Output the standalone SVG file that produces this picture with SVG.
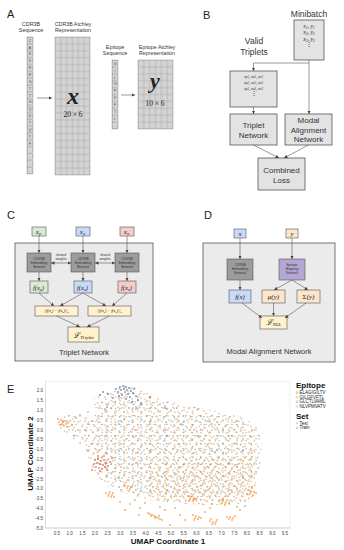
<svg xmlns="http://www.w3.org/2000/svg" width="344" height="550" viewBox="0 0 344 550">
<style>
.lbl{font-family:"Liberation Sans",Arial,sans-serif;font-size:11px;fill:#222}
.t{font-family:"Liberation Sans",Arial,sans-serif;fill:#333;text-anchor:middle}
.m{font-family:"Liberation Serif","DejaVu Serif",serif;font-style:italic;fill:#222;text-anchor:middle}
.mu{font-family:"Liberation Serif","DejaVu Serif",serif;fill:#222;text-anchor:middle}
.box{fill:#e3e3e3;stroke:#555;stroke-width:0.8}
.big{fill:#ebebeb;stroke:#555;stroke-width:0.8}
.ln{stroke:#555;stroke-width:0.6;fill:none}
.emb{fill:#9c9c9c;stroke:#555;stroke-width:0.6}
.gr{fill:#d9ead3;stroke:#555;stroke-width:0.6}
.bu{fill:#c9daf8;stroke:#555;stroke-width:0.6}
.rd{fill:#f4cccc;stroke:#555;stroke-width:0.6}
.ye{fill:#fff2cc;stroke:#555;stroke-width:0.6}
.pe{fill:#fce5cd;stroke:#555;stroke-width:0.6}
.pu{fill:#b4a7d6;stroke:#555;stroke-width:0.6}
.tk{font-family:"Liberation Sans",Arial,sans-serif;font-size:4.5px;fill:#444}
.ax{font-family:"Liberation Sans",Arial,sans-serif;font-size:8px;font-weight:bold;fill:#111}
.lg{font-family:"Liberation Sans",Arial,sans-serif;font-size:4.5px;fill:#222}
.o{fill:#f58518;fill-opacity:.7}
.c{fill:#6fb0c4;fill-opacity:.7}
.r{fill:#e45756;fill-opacity:.8}
.bl{fill:#4c78a8;fill-opacity:.8}
</style>
<defs>
<marker id="ah" viewBox="0 0 6 6" refX="6" refY="3" markerUnits="userSpaceOnUse" markerWidth="3.5" markerHeight="3.5" orient="auto-start-reverse"><path d="M0,0L6,3L0,6z" fill="#444"/></marker>
<pattern id="cellA" x="55" y="37" width="5.8333" height="6.9" patternUnits="userSpaceOnUse"><rect width="5.8333" height="6.9" fill="#d4d4d4" stroke="#a0a0a0" stroke-width="0.5"/></pattern>
<pattern id="cellB" x="138" y="60" width="5.8333" height="6.9" patternUnits="userSpaceOnUse"><rect width="5.8333" height="6.9" fill="#d4d4d4" stroke="#a0a0a0" stroke-width="0.5"/></pattern>
<pattern id="sqA" x="27" y="37" width="6" height="6.85" patternUnits="userSpaceOnUse"><rect x="0.6" y="0.6" width="4.8" height="5.65" fill="#d8d8d8" stroke="#777" stroke-width="0.4"/></pattern>
<pattern id="sqB" x="112" y="60" width="6" height="6.9" patternUnits="userSpaceOnUse"><rect x="0.6" y="0.6" width="4.8" height="5.7" fill="#d8d8d8" stroke="#777" stroke-width="0.4"/></pattern>
<pattern id="pO" width="13" height="11" patternUnits="userSpaceOnUse"><g class="o"><circle cx="2" cy="3" r="0.8"/><circle cx="7.5" cy="1" r="0.8"/><circle cx="11" cy="6.5" r="0.8"/><circle cx="4" cy="8.5" r="0.8"/><circle cx="9" cy="9.8" r="0.8"/></g></pattern>
<pattern id="pO2" x="3" y="2" width="9" height="10" patternUnits="userSpaceOnUse"><g class="o"><circle cx="1.5" cy="2" r="0.8"/><circle cx="6" cy="4.5" r="0.8"/><circle cx="3" cy="8" r="0.8"/></g></pattern>
<pattern id="pO3" x="1" y="4" width="17" height="7" patternUnits="userSpaceOnUse"><g class="o"><circle cx="4" cy="2" r="0.8"/><circle cx="12.5" cy="5.5" r="0.8"/></g></pattern>
<pattern id="pT" width="11" height="14" patternUnits="userSpaceOnUse"><g class="c"><circle cx="1" cy="2" r="0.8"/><circle cx="6" cy="5" r="0.8"/><circle cx="9.5" cy="11" r="0.8"/><circle cx="3" cy="10" r="0.8"/><circle cx="8" cy="1.5" r="0.8"/></g></pattern>
<pattern id="pT2" x="5" y="3" width="9" height="8" patternUnits="userSpaceOnUse"><g class="c"><circle cx="2" cy="1" r="0.8"/><circle cx="7" cy="5.5" r="0.8"/></g></pattern>
<pattern id="pR" width="29" height="23" patternUnits="userSpaceOnUse"><g class="r"><circle cx="5" cy="7" r="0.8"/><circle cx="20" cy="16" r="0.8"/></g></pattern>
<pattern id="pB" width="31" height="27" patternUnits="userSpaceOnUse"><g class="bl"><circle cx="12" cy="4" r="0.8"/><circle cx="26" cy="19" r="0.8"/></g></pattern>
<clipPath id="cloud"><polygon points="95,396 110,390 122,385 135,386 145,392 160,398 180,404 200,408 225,412 245,418 258,428 262,445 260,465 256,480 255,495 245,503 225,505 200,505 175,503 150,500 130,495 115,490 105,485 95,475 90,462 85,448 75,440 62,432 57,424 62,416 75,414 90,418 96,410 93,400"/></clipPath>
<clipPath id="core"><polygon points="105,400 140,396 180,410 230,418 252,432 255,470 245,495 200,500 150,495 120,485 100,470 95,450 90,430 98,412"/></clipPath>
<clipPath id="lower"><polygon points="150,470 200,460 258,455 256,480 255,495 245,503 225,505 200,505 175,503 150,500"/></clipPath>
</defs>
<rect width="344" height="550" fill="#fff"/>

<!-- Panel A -->
<g id="panelA">
<text class="lbl" x="7" y="18">A</text>
<text class="t" font-size="5.4" x="31" y="26">CDR3B</text>
<text class="t" font-size="5.4" x="31" y="32">Sequence</text>
<text class="t" font-size="5.3" x="73" y="26">CDR3B Atchley</text>
<text class="t" font-size="5.3" x="73" y="32">Representation</text>
<text class="t" font-size="5.4" x="115" y="48.5">Epitope</text>
<text class="t" font-size="5.4" x="115" y="54.5">Sequence</text>
<text class="t" font-size="5.3" x="157" y="48.5">Epitope Atchley</text>
<text class="t" font-size="5.3" x="157" y="54.5">Representation</text>
<rect x="27" y="37" width="6" height="137" fill="url(#sqA)" stroke="#888" stroke-width="0.4"/>
<text class="t" font-size="3.4" fill="#333"><tspan x="30" y="41.7">C</tspan><tspan x="30" y="48.6">A</tspan><tspan x="30" y="55.4">S</tspan><tspan x="30" y="62.3">S</tspan><tspan x="30" y="69.1">R</tspan><tspan x="30" y="76">R</tspan><tspan x="30" y="82.8">G</tspan><tspan x="30" y="89.7">T</tspan><tspan x="30" y="96.5">T</tspan><tspan x="30" y="103.4">G</tspan><tspan x="30" y="110.2">Q</tspan><tspan x="30" y="117.1">D</tspan><tspan x="30" y="123.9">T</tspan><tspan x="30" y="130.8">Q</tspan><tspan x="30" y="137.6">Y</tspan><tspan x="30" y="144.5">F</tspan><tspan x="30" y="151.3">-</tspan><tspan x="30" y="158.2">-</tspan><tspan x="30" y="165">-</tspan><tspan x="30" y="171.9">-</tspan></text>
<rect x="55" y="37" width="35" height="138" fill="url(#cellA)" stroke="#999" stroke-width="0.5"/>
<text class="m" font-weight="bold" font-size="24" x="73" y="104">x</text>
<text class="mu" font-size="7.5" x="73" y="117">20 × 6</text>
<line class="ln" x1="37" y1="98" x2="52" y2="98" marker-end="url(#ah)"/>
<rect x="112" y="60" width="6" height="69" fill="url(#sqB)" stroke="#888" stroke-width="0.4"/>
<text class="t" font-size="3.4" fill="#333"><tspan x="115" y="64.7">G</tspan><tspan x="115" y="71.6">I</tspan><tspan x="115" y="78.5">L</tspan><tspan x="115" y="85.4">G</tspan><tspan x="115" y="92.3">F</tspan><tspan x="115" y="99.2">V</tspan><tspan x="115" y="106.1">F</tspan><tspan x="115" y="113">T</tspan><tspan x="115" y="119.9">L</tspan><tspan x="115" y="126.8">-</tspan></text>
<rect x="138" y="60" width="35" height="69" fill="url(#cellB)" stroke="#999" stroke-width="0.5"/>
<text class="m" font-weight="bold" font-size="22" x="155" y="88">y</text>
<text class="mu" font-size="7.5" x="155" y="106">10 × 6</text>
<line class="ln" x1="121" y1="95" x2="135" y2="95" marker-end="url(#ah)"/>
</g>

<!-- Panel B -->
<g id="panelB">
<text class="lbl" x="203" y="19">B</text>
<text class="t" font-size="8.5" x="309" y="17">Minibatch</text>
<text class="t" font-size="8.5" x="254" y="44">Valid</text>
<text class="t" font-size="8.5" x="254" y="55">Triplets</text>
</g>
<g id="minibatch">
<rect class="box" x="294" y="20" width="30" height="40"/>
<text class="m" font-size="5.5" x="309" y="27.5">x<tspan font-size="3.8" dy="1">1</tspan><tspan dy="-1">, y</tspan><tspan font-size="3.8" dy="1">1</tspan></text>
<text class="m" font-size="5.5" x="309" y="34">x<tspan font-size="3.8" dy="1">2</tspan><tspan dy="-1">, y</tspan><tspan font-size="3.8" dy="1">2</tspan></text>
<text class="m" font-size="5.5" x="309" y="40.5">x<tspan font-size="3.8" dy="1">3</tspan><tspan dy="-1">, y</tspan><tspan font-size="3.8" dy="1">3</tspan></text>
<text class="mu" font-size="5.5" x="309" y="46">⋮</text>
</g>
<g id="validTriplets">
<rect class="box" x="230" y="71" width="47" height="36"/>
<text class="m" font-size="4.2" x="253.5" y="77.5">x<tspan font-size="3" dy="0.8">p1</tspan><tspan dy="-0.8">, x</tspan><tspan font-size="3" dy="0.8">a1</tspan><tspan dy="-0.8">, x</tspan><tspan font-size="3" dy="0.8">n1</tspan></text>
<text class="m" font-size="4.2" x="253.5" y="83.5">x<tspan font-size="3" dy="0.8">p2</tspan><tspan dy="-0.8">, x</tspan><tspan font-size="3" dy="0.8">a2</tspan><tspan dy="-0.8">, x</tspan><tspan font-size="3" dy="0.8">n2</tspan></text>
<text class="m" font-size="4.2" x="253.5" y="89.5">x<tspan font-size="3" dy="0.8">p3</tspan><tspan dy="-0.8">, x</tspan><tspan font-size="3" dy="0.8">a3</tspan><tspan dy="-0.8">, x</tspan><tspan font-size="3" dy="0.8">n3</tspan></text>
<text class="mu" font-size="5.5" x="253.5" y="95">⋮</text>
</g>
<g id="tripletNet">
<rect class="box" x="230" y="114" width="47" height="31"/>
<text class="t" font-size="8" x="253.5" y="128">Triplet</text>
<text class="t" font-size="8" x="253.5" y="137.5">Network</text>
</g>
<g id="modalNet">
<rect class="box" x="285" y="114" width="47" height="31"/>
<text class="t" font-size="8" x="308.5" y="123">Modal</text>
<text class="t" font-size="8" x="308.5" y="132.5">Alignment</text>
<text class="t" font-size="8" x="308.5" y="142">Network</text>
</g>
<g id="combinedLoss">
<rect class="box" x="258" y="158" width="47" height="32"/>
<text class="t" font-size="8" x="281.5" y="173">Combined</text>
<text class="t" font-size="8" x="281.5" y="183">Loss</text>
</g>

<!-- Panel C -->
<g id="panelC">
<text class="lbl" x="7" y="219">C</text>
<rect class="big" x="15" y="243" width="138" height="118"/>
<text class="t" font-size="7.5" x="84" y="355">Triplet Network</text>
</g>
<g id="xp"><rect class="gr" x="32" y="227" width="14" height="9"/><text class="m" font-size="7" x="38.5" y="233.8">x<tspan font-size="4.5" dy="1">p</tspan></text></g>
<g id="xa"><rect class="bu" x="76" y="227" width="14" height="9"/><text class="m" font-size="7" x="82.5" y="233.8">x<tspan font-size="4.5" dy="1">a</tspan></text></g>
<g id="xn"><rect class="rd" x="120" y="227" width="14" height="9"/><text class="m" font-size="7" x="126.5" y="233.8">x<tspan font-size="4.5" dy="1">n</tspan></text></g>
<g id="embP"><rect class="emb" x="27" y="253" width="24" height="19"/><text class="t" font-size="3.3" fill="#222"><tspan x="39" y="259.5">CDR3B</tspan><tspan x="39" y="263.5">Embedding</tspan><tspan x="39" y="267.5">Network</tspan></text></g>
<g id="embA"><rect class="emb" x="71" y="253" width="24" height="19"/><text class="t" font-size="3.3" fill="#222"><tspan x="83" y="259.5">CDR3B</tspan><tspan x="83" y="263.5">Embedding</tspan><tspan x="83" y="267.5">Network</tspan></text></g>
<g id="embN"><rect class="emb" x="115" y="253" width="24" height="19"/><text class="t" font-size="3.3" fill="#222"><tspan x="127" y="259.5">CDR3B</tspan><tspan x="127" y="263.5">Embedding</tspan><tspan x="127" y="267.5">Network</tspan></text></g>
<g id="sharedLabels"><text class="t" font-size="3.3" fill="#222"><tspan x="61" y="255.5">shared</tspan><tspan x="61" y="259.5">weights</tspan><tspan x="105" y="255.5">shared</tspan><tspan x="105" y="259.5">weights</tspan></text></g>
<g id="fp"><rect class="gr" x="30" y="281" width="18" height="12"/><text class="m" font-size="6.5" x="38.5" y="289.5">f(x<tspan font-size="4" dy="1">p</tspan><tspan dy="-1">)</tspan></text></g>
<g id="fa"><rect class="bu" x="74" y="281" width="18" height="12"/><text class="m" font-size="6.5" x="82.5" y="289.5">f(x<tspan font-size="4" dy="1">a</tspan><tspan dy="-1">)</tspan></text></g>
<g id="fn"><rect class="rd" x="118" y="281" width="18" height="12"/><text class="m" font-size="6.5" x="126.5" y="289.5">f(x<tspan font-size="4" dy="1">n</tspan><tspan dy="-1">)</tspan></text></g>
<g id="dpa"><rect class="ye" x="35" y="306" width="43" height="10"/><text class="m" font-size="4" x="56.5" y="312.3">||f(x<tspan font-size="2.8" dy="0.7">p</tspan><tspan dy="-0.7">) − f(x</tspan><tspan font-size="2.8" dy="0.7">a</tspan><tspan dy="-0.7">)||</tspan><tspan font-size="2.8" dy="0.7">2</tspan></text></g>
<g id="dan"><rect class="ye" x="88" y="306" width="43" height="10"/><text class="m" font-size="4" x="109.5" y="312.3">||f(x<tspan font-size="2.8" dy="0.7">a</tspan><tspan dy="-0.7">) − f(x</tspan><tspan font-size="2.8" dy="0.7">n</tspan><tspan dy="-0.7">)||</tspan><tspan font-size="2.8" dy="0.7">2</tspan></text></g>
<g id="lTriplet"><rect class="ye" x="68" y="327" width="31" height="15"/><text class="m" font-size="8" x="83.5" y="337.5">ℒ<tspan font-size="5" dy="1.5">Triplet</tspan></text></g>

<!-- Panel D -->
<g id="panelD">
<text class="lbl" x="204" y="219">D</text>
<rect class="big" x="203" y="243" width="132" height="119"/>
<text class="t" font-size="7.5" x="269" y="354">Modal Alignment Network</text>
</g>
<g id="dx"><rect class="bu" x="234" y="229" width="12" height="9"/><text class="m" font-size="7" x="240" y="235.8">x</text></g>
<g id="dy"><rect class="pe" x="286" y="229" width="12" height="9"/><text class="m" font-size="7" x="292" y="235.5">y</text></g>
<g id="dEmb"><rect class="emb" x="227" y="259" width="26" height="21"/><text class="t" font-size="3.3" fill="#222"><tspan x="240" y="266">CDR3B</tspan><tspan x="240" y="270">Embedding</tspan><tspan x="240" y="274">Network</tspan></text></g>
<g id="dEpi"><rect class="pu" x="279" y="259" width="26" height="21"/><text class="t" font-size="3.3" fill="#222"><tspan x="292" y="266">Epitope</tspan><tspan x="292" y="270">Mapping</tspan><tspan x="292" y="274">Network</tspan></text></g>
<g id="dfx"><rect class="bu" x="229" y="290" width="22" height="13"/><text class="m" font-size="7" x="240" y="298.8">f(x)</text></g>
<g id="dmu"><rect class="pe" x="262" y="290" width="23" height="13"/><text class="m" font-size="7" x="273.5" y="298.8">μ(y)</text></g>
<g id="dsig"><rect class="pe" x="297" y="290" width="23" height="13"/><text class="m" font-size="7" x="308.5" y="298.8"><tspan font-style="normal">Σ</tspan>(y)</text></g>
<g id="dL"><rect class="ye" x="260" y="316" width="27" height="13"/><text class="m" font-size="8" x="273.5" y="324.8">ℒ<tspan font-size="4.8" dy="1.5">NLL</tspan></text></g>

<!-- connectors -->
<g id="connectors">
<line class="ln" x1="309" y1="60" x2="309" y2="114" marker-end="url(#ah)"/>
<polyline class="ln" points="309,63 253.5,63 253.5,71" marker-end="url(#ah)"/>
<line class="ln" x1="253.5" y1="107" x2="253.5" y2="114" marker-end="url(#ah)"/>
<line class="ln" x1="253.5" y1="145" x2="279" y2="158" marker-end="url(#ah)"/>
<line class="ln" x1="308.5" y1="145" x2="284" y2="158" marker-end="url(#ah)"/>

<line class="ln" x1="39" y1="236" x2="39" y2="253" marker-end="url(#ah)"/>
<line class="ln" x1="83" y1="236" x2="83" y2="253" marker-end="url(#ah)"/>
<line class="ln" x1="127" y1="236" x2="127" y2="253" marker-end="url(#ah)"/>
<line class="ln" x1="51" y1="263" x2="71" y2="263" marker-start="url(#ah)" marker-end="url(#ah)"/>
<line class="ln" x1="95" y1="263" x2="115" y2="263" marker-start="url(#ah)" marker-end="url(#ah)"/>
<line class="ln" x1="39" y1="272" x2="39" y2="281" marker-end="url(#ah)"/>
<line class="ln" x1="83" y1="272" x2="83" y2="281" marker-end="url(#ah)"/>
<line class="ln" x1="127" y1="272" x2="127" y2="281" marker-end="url(#ah)"/>
<line class="ln" x1="39" y1="293" x2="54" y2="306" marker-end="url(#ah)"/>
<line class="ln" x1="83" y1="293" x2="60" y2="306" marker-end="url(#ah)"/>
<line class="ln" x1="83" y1="293" x2="106" y2="306" marker-end="url(#ah)"/>
<line class="ln" x1="127" y1="293" x2="112" y2="306" marker-end="url(#ah)"/>
<line class="ln" x1="56.5" y1="316" x2="80" y2="327" marker-end="url(#ah)"/>
<line class="ln" x1="109.5" y1="316" x2="87" y2="327" marker-end="url(#ah)"/>

<line class="ln" x1="240" y1="238" x2="240" y2="259" marker-end="url(#ah)"/>
<line class="ln" x1="292" y1="238" x2="292" y2="259" marker-end="url(#ah)"/>
<line class="ln" x1="240" y1="280" x2="240" y2="290" marker-end="url(#ah)"/>
<line class="ln" x1="292" y1="280" x2="274" y2="290" marker-end="url(#ah)"/>
<line class="ln" x1="292" y1="280" x2="308" y2="290" marker-end="url(#ah)"/>
<line class="ln" x1="242" y1="303" x2="262" y2="318" marker-end="url(#ah)"/>
<line class="ln" x1="273.5" y1="303" x2="273.5" y2="316" marker-end="url(#ah)"/>
<line class="ln" x1="306" y1="303" x2="285" y2="318" marker-end="url(#ah)"/>
</g>

<!-- Panel E -->
<g id="panelE">
<text class="lbl" x="7" y="393">E</text>
<rect x="45.5" y="381.5" width="244.5" height="146.5" fill="none" stroke="#e2e2e2" stroke-width="0.5"/>
<line x1="45.5" y1="528" x2="290" y2="528" stroke="#bbb" stroke-width="0.6"/>
<line x1="45.5" y1="381.5" x2="45.5" y2="528" stroke="#ccc" stroke-width="0.5"/>
<g class="tk" text-anchor="end">
<text x="43" y="392.4">2.0</text><text x="43" y="402.2">1.5</text><text x="43" y="412">1.0</text><text x="43" y="421.8">0.5</text><text x="43" y="431.6">0.0</text><text x="43" y="441.4">-0.5</text><text x="43" y="451.2">-1.0</text><text x="43" y="461">-1.5</text><text x="43" y="470.8">-2.0</text><text x="43" y="480.6">-2.5</text><text x="43" y="490.4">-3.0</text><text x="43" y="500.2">-3.5</text><text x="43" y="510">-4.0</text><text x="43" y="519.8">-4.5</text><text x="43" y="529.6">-5.0</text>
</g>
<g class="tk" text-anchor="middle">
<text x="57" y="535">0.5</text><text x="69.7" y="535">1.0</text><text x="82.3" y="535">1.5</text><text x="95" y="535">2.0</text><text x="107.7" y="535">2.5</text><text x="120.3" y="535">3.0</text><text x="133" y="535">3.5</text><text x="145.7" y="535">4.0</text><text x="158.3" y="535">4.5</text><text x="171" y="535">5.0</text><text x="183.7" y="535">5.5</text><text x="196.3" y="535">6.0</text><text x="209" y="535">6.5</text><text x="221.7" y="535">7.0</text><text x="234.3" y="535">7.5</text><text x="247" y="535">8.0</text><text x="259.7" y="535">8.5</text><text x="272.3" y="535">9.0</text><text x="285" y="535">9.5</text>
</g>
<text class="ax" x="168" y="544" text-anchor="middle">UMAP Coordinate 1</text>
<text class="ax" x="32.5" y="453.5" text-anchor="middle" transform="rotate(-90 32.5 453.5)">UMAP Coordinate 2</text>

<g id="scatter">
<g clip-path="url(#cloud)">
<rect x="50" y="380" width="215" height="130" fill="url(#pT)"/>
<rect x="50" y="380" width="215" height="130" fill="url(#pO)"/>
<rect x="50" y="380" width="215" height="130" fill="url(#pR)"/>
<rect x="50" y="380" width="215" height="130" fill="url(#pB)"/>
</g>
<g clip-path="url(#core)">
<rect x="50" y="380" width="215" height="130" fill="url(#pT2)"/>
<rect x="50" y="380" width="215" height="130" fill="url(#pO3)"/>
</g>
<g clip-path="url(#lower)"><rect x="140" y="450" width="125" height="60" fill="url(#pO2)"/></g>
<g class="bl">
<circle cx="120" cy="387" r="0.9"/><circle cx="123" cy="386" r="0.9"/><circle cx="126" cy="387" r="0.9"/><circle cx="129" cy="388" r="0.9"/><circle cx="124" cy="389" r="0.9"/><circle cx="121" cy="390" r="0.9"/><circle cx="127" cy="390" r="0.9"/><circle cx="131" cy="391" r="0.9"/><circle cx="118" cy="392" r="0.9"/><circle cx="125" cy="392" r="0.9"/><circle cx="133" cy="393" r="0.9"/><circle cx="128" cy="394" r="0.9"/><circle cx="122" cy="395" r="0.9"/><circle cx="136" cy="396" r="0.9"/><circle cx="130" cy="397" r="0.9"/><circle cx="116" cy="389" r="0.9"/><circle cx="134" cy="389" r="0.9"/><circle cx="119" cy="396" r="0.9"/><circle cx="138" cy="400" r="0.9"/><circle cx="126" cy="399" r="0.9"/><circle cx="113" cy="398" r="0.9"/><circle cx="108" cy="394" r="0.9"/><circle cx="103" cy="392" r="0.9"/><circle cx="100" cy="395" r="0.9"/><circle cx="132" cy="402" r="0.9"/><circle cx="141" cy="404" r="0.9"/>
</g>
<g class="r">
<circle cx="95" cy="460" r="0.9"/><circle cx="98" cy="459" r="0.9"/><circle cx="101" cy="461" r="0.9"/><circle cx="104" cy="460" r="0.9"/><circle cx="97" cy="463" r="0.9"/><circle cx="100" cy="464" r="0.9"/><circle cx="103" cy="465" r="0.9"/><circle cx="106" cy="463" r="0.9"/><circle cx="96" cy="467" r="0.9"/><circle cx="99" cy="468" r="0.9"/><circle cx="102" cy="469" r="0.9"/><circle cx="105" cy="467" r="0.9"/><circle cx="108" cy="466" r="0.9"/><circle cx="100" cy="471" r="0.9"/><circle cx="94" cy="464" r="0.9"/><circle cx="107" cy="470" r="0.9"/><circle cx="110" cy="462" r="0.9"/><circle cx="98" cy="456" r="0.9"/><circle cx="104" cy="456" r="0.9"/><circle cx="112" cy="458" r="0.9"/><circle cx="92" cy="470" r="0.9"/>
</g>
<g class="o">
<circle cx="59" cy="422" r="0.9"/><circle cx="61" cy="420" r="0.9"/><circle cx="63" cy="422" r="0.9"/><circle cx="65" cy="421" r="0.9"/><circle cx="62" cy="424" r="0.9"/><circle cx="66" cy="424" r="0.9"/><circle cx="60" cy="425" r="0.9"/><circle cx="64" cy="426" r="0.9"/><circle cx="68" cy="423" r="0.9"/><circle cx="70" cy="421" r="0.9"/><circle cx="58" cy="419" r="0.9"/><circle cx="67" cy="427" r="0.9"/><circle cx="72" cy="425" r="0.9"/>
<circle cx="106" cy="493" r="0.9"/><circle cx="109" cy="494" r="0.9"/><circle cx="112" cy="495" r="0.9"/><circle cx="108" cy="496" r="0.9"/><circle cx="111" cy="497" r="0.9"/><circle cx="114" cy="497" r="0.9"/><circle cx="110" cy="492" r="0.9"/><circle cx="113" cy="493" r="0.9"/>
<circle cx="125" cy="486" r="0.9"/><circle cx="128" cy="486" r="0.9"/><circle cx="131" cy="487" r="0.9"/><circle cx="127" cy="488" r="0.9"/><circle cx="130" cy="489" r="0.9"/>
<circle cx="148" cy="513" r="0.9"/><circle cx="150" cy="514" r="0.9"/><circle cx="152" cy="515" r="0.9"/><circle cx="154" cy="516" r="0.9"/><circle cx="156" cy="517" r="0.9"/><circle cx="158" cy="518" r="0.9"/><circle cx="160" cy="519" r="0.9"/><circle cx="151" cy="516" r="0.9"/><circle cx="155" cy="518" r="0.9"/><circle cx="159" cy="516" r="0.9"/><circle cx="162" cy="520" r="0.9"/>
<circle cx="188" cy="496" r="0.9"/><circle cx="191" cy="497" r="0.9"/><circle cx="194" cy="498" r="0.9"/><circle cx="190" cy="499" r="0.9"/><circle cx="193" cy="500" r="0.9"/><circle cx="196" cy="499" r="0.9"/><circle cx="189" cy="501" r="0.9"/>
<circle cx="220" cy="500" r="0.9"/><circle cx="223" cy="501" r="0.9"/><circle cx="226" cy="502" r="0.9"/><circle cx="229" cy="503" r="0.9"/><circle cx="222" cy="503" r="0.9"/><circle cx="227" cy="500" r="0.9"/><circle cx="225" cy="505" r="0.9"/>
<circle cx="193" cy="515" r="0.9"/><circle cx="196" cy="516" r="0.9"/><circle cx="199" cy="517" r="0.9"/><circle cx="195" cy="518" r="0.9"/><circle cx="198" cy="519" r="0.9"/><circle cx="201" cy="518" r="0.9"/><circle cx="194" cy="520" r="0.9"/>
<circle cx="210" cy="521" r="0.9"/><circle cx="213" cy="522" r="0.9"/><circle cx="216" cy="522" r="0.9"/><circle cx="212" cy="524" r="0.9"/><circle cx="215" cy="524" r="0.9"/><circle cx="211" cy="519" r="0.9"/><circle cx="217" cy="520" r="0.9"/>
<circle cx="227" cy="517" r="0.9"/><circle cx="230" cy="517" r="0.9"/><circle cx="233" cy="518" r="0.9"/><circle cx="229" cy="519" r="0.9"/><circle cx="232" cy="520" r="0.9"/><circle cx="235" cy="516" r="0.9"/>
<circle cx="248" cy="490" r="0.9"/><circle cx="251" cy="491" r="0.9"/><circle cx="254" cy="492" r="0.9"/><circle cx="250" cy="494" r="0.9"/><circle cx="253" cy="495" r="0.9"/><circle cx="256" cy="493" r="0.9"/><circle cx="252" cy="488" r="0.9"/><circle cx="247" cy="494" r="0.9"/>
<circle cx="120" cy="502" r="0.9"/><circle cx="135" cy="500" r="0.9"/><circle cx="140" cy="508" r="0.9"/><circle cx="165" cy="510" r="0.9"/><circle cx="175" cy="508" r="0.9"/><circle cx="180" cy="515" r="0.9"/><circle cx="185" cy="520" r="0.9"/><circle cx="205" cy="512" r="0.9"/><circle cx="240" cy="510" r="0.9"/><circle cx="170" cy="525" r="0.9"/><circle cx="145" cy="503" r="0.9"/><circle cx="210" cy="508" r="0.9"/><circle cx="139" cy="515" r="0.9"/><circle cx="125" cy="510" r="0.9"/><circle cx="80" cy="415" r="0.9"/><circle cx="85" cy="430" r="0.9"/>
</g>
<g class="c">
<circle cx="237" cy="507" r="0.9"/><circle cx="245" cy="506" r="0.9"/><circle cx="160" cy="507" r="0.9"/><circle cx="130" cy="504" r="0.9"/><circle cx="76" cy="418" r="0.9"/><circle cx="88" cy="412" r="0.9"/>
</g>
</g>

<g id="legend">
<text class="ax" x="296" y="388">Epitope</text>
<circle cx="297" cy="392.6" r="0.9" fill="none" stroke="#4c78a8" stroke-width="0.4"/><text class="lg" x="299.5" y="394.2">ELAGIGILTV</text>
<circle cx="297" cy="397.2" r="0.9" fill="none" stroke="#f58518" stroke-width="0.4"/><text class="lg" x="299.5" y="398.8">GILGFVFTL</text>
<circle cx="297" cy="401.8" r="0.9" fill="none" stroke="#e45756" stroke-width="0.4"/><text class="lg" x="299.5" y="403.4">GLCTLVAML</text>
<circle cx="297" cy="406.4" r="0.9" fill="none" stroke="#72b7b2" stroke-width="0.4"/><text class="lg" x="299.5" y="408">NLVPMVATV</text>
<text class="ax" x="296" y="419">Set</text>
<circle cx="297" cy="423.2" r="0.7" fill="none" stroke="#999" stroke-width="0.4"/><text class="lg" x="299.5" y="424.8">Test</text>
<circle cx="297" cy="427.8" r="0.9" fill="none" stroke="#999" stroke-width="0.4"/><text class="lg" x="299.5" y="429.4">Train</text>
</g>
</g>
</svg>
